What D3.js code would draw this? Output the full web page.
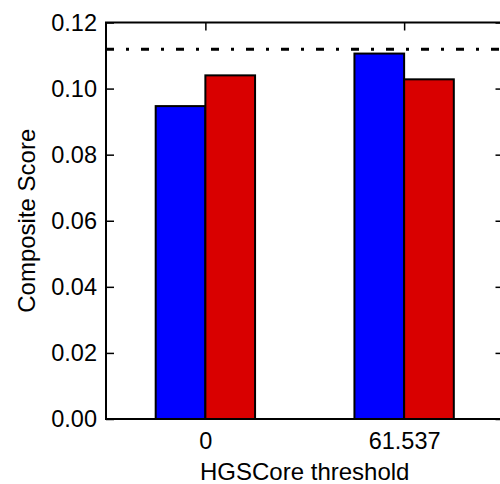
<!DOCTYPE html>
<html>
<head>
<meta charset="utf-8">
<script src="https://cdn.jsdelivr.net/npm/d3@7"></script>
<style>
  body { margin: 0; background: #fff; }
  text { font-family: "Liberation Sans", Arial, sans-serif; }
</style>
</head>
<body>
<svg id="chart" width="500" height="484"></svg>
<script>
// data
const categories = ["0", "61.537"];
const blueValues = [0.0947, 0.1106];
const redValues = [0.1040, 0.1028];
const referenceLine = 0.1119;
const yTicks = [0, 0.02, 0.04, 0.06, 0.08, 0.10, 0.12];

const svg = d3.select("#chart");
const plotLeft = 106, plotRight = 503.5, plotTop = 22.5, plotBottom = 419;
const barWidth = 0.25;
const tickFont = 23.5;
const titleFont = 24;

const x = d3.scaleLinear().domain([-0.5, categories.length - 0.5]).range([plotLeft, plotRight]);
const y = d3.scaleLinear().domain([0, 0.12]).range([plotBottom, plotTop]);

// bars: blue left of the tick, red right of it
const bars = svg.append("g");
const series = [
  { values: blueValues, color: "#0000ff", offset: -barWidth },
  { values: redValues, color: "#d90000", offset: 0 },
];
series.forEach(s => {
  bars.selectAll(null)
    .data(s.values)
    .join("rect")
    .attr("x", (d, i) => x(i + s.offset))
    .attr("y", d => y(d))
    .attr("width", x(barWidth) - x(0))
    .attr("height", d => y(0) - y(d))
    .attr("fill", s.color)
    .attr("stroke", "#000")
    .attr("stroke-width", 2);
});

// dash-dot reference line
svg.append("line")
  .attr("x1", plotLeft).attr("x2", plotRight)
  .attr("y1", y(referenceLine)).attr("y2", y(referenceLine))
  .attr("stroke", "#000")
  .attr("stroke-width", 3)
  .attr("stroke-dasharray", "8,12,3,12");

// axes, ticks pointing inward like matplotlib classic
function styleAxis(g) {
  g.select(".domain").remove();
  g.selectAll(".tick line").attr("stroke", "#000").attr("stroke-width", 1.5);
  g.selectAll("text").attr("font-size", tickFont).attr("fill", "#000")
    .attr("font-family", "Liberation Sans, Arial, sans-serif");
}

svg.append("g")
  .attr("transform", `translate(${plotLeft},0)`)
  .call(d3.axisLeft(y).tickValues(yTicks).tickFormat(d3.format(".2f"))
    .tickSizeInner(-8).tickSizeOuter(0).tickPadding(9))
  .call(styleAxis);

svg.append("g")
  .attr("transform", `translate(${plotRight},0)`)
  .call(d3.axisRight(y).tickValues(yTicks).tickFormat("")
    .tickSizeInner(-8).tickSizeOuter(0))
  .call(styleAxis);

svg.append("g")
  .attr("transform", `translate(0,${plotTop})`)
  .call(d3.axisTop(x).tickValues(d3.range(categories.length)).tickFormat("")
    .tickSizeInner(-8).tickSizeOuter(0))
  .call(styleAxis);

svg.append("g")
  .attr("transform", `translate(0,${plotBottom})`)
  .call(d3.axisBottom(x).tickValues(d3.range(categories.length))
    .tickFormat(i => categories[i])
    .tickSizeInner(0).tickSizeOuter(0).tickPadding(13))
  .call(styleAxis);

// frame
svg.append("rect")
  .attr("x", plotLeft).attr("y", plotTop)
  .attr("width", plotRight - plotLeft).attr("height", plotBottom - plotTop)
  .attr("fill", "none")
  .attr("stroke", "#000")
  .attr("stroke-width", 2);

// axis titles
svg.append("text")
  .attr("x", (plotLeft + plotRight) / 2)
  .attr("y", 480)
  .attr("text-anchor", "middle")
  .attr("font-size", titleFont)
  .text("HGSCore threshold");

svg.append("text")
  .attr("transform", `translate(35,${(plotTop + plotBottom) / 2}) rotate(-90)`)
  .attr("text-anchor", "middle")
  .attr("font-size", titleFont)
  .text("Composite Score");
</script>
</body>
</html>
